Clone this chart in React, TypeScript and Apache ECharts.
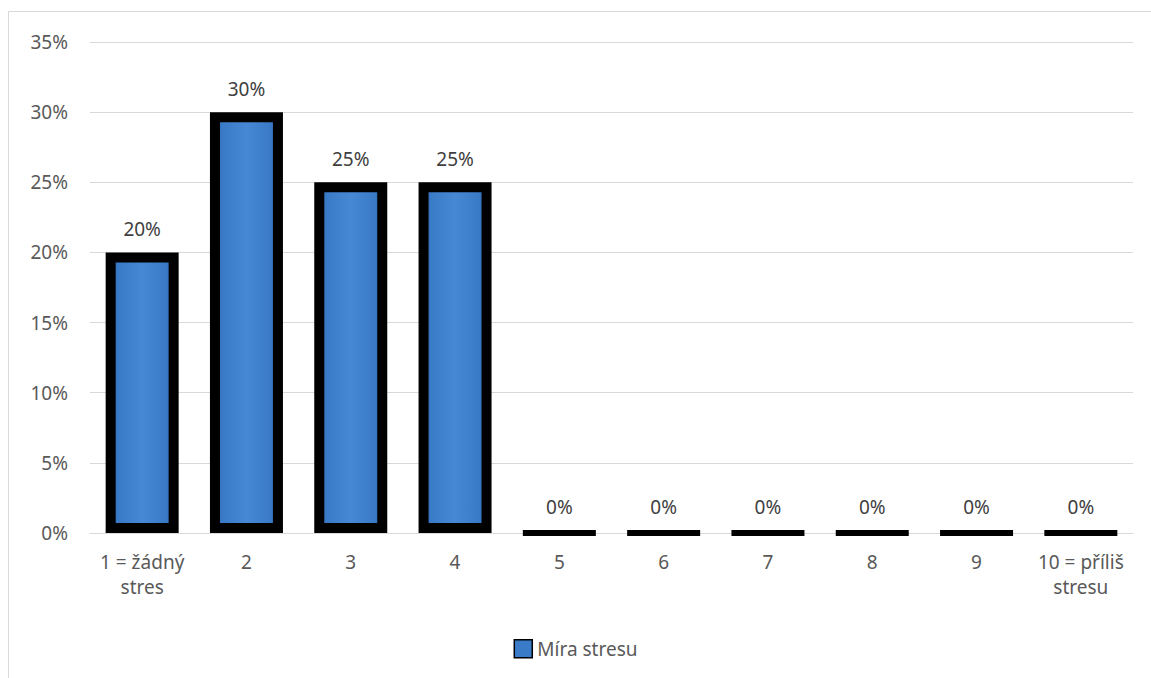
import React, { useEffect, useRef } from "react";
import * as echarts from "echarts";

const categories = ["1 = žádný\nstres", "2", "3", "4", "5", "6", "7", "8", "9", "10 = příliš\nstresu"];
const values = [0.2, 0.3, 0.25, 0.25, 0, 0, 0, 0, 0, 0];
const seriesName = "Míra stresu";

export default function App() {
  const ref = useRef<HTMLDivElement>(null);
  useEffect(() => {
    if (!ref.current) return;
    const chart = echarts.init(ref.current, null, { renderer: "svg" });
    const font = "'Noto Sans', sans-serif";
    const barFill = new echarts.graphic.LinearGradient(0, 0, 1, 0, [
      { offset: 0, color: "#2a62a8" },
      { offset: 0.12, color: "#3a7bc8" },
      { offset: 0.5, color: "#4688d4" },
      { offset: 0.88, color: "#3a7bc8" },
      { offset: 1, color: "#2a62a8" },
    ]);
    const fs = 19;
    chart.setOption({
      animation: false,
      backgroundColor: "#fff",
      textStyle: { fontFamily: font },
      graphic: [
        {
          type: "rect",
          shape: { x: 8.5, y: 11.5, width: 1200, height: 700 },
          style: { fill: "none", stroke: "#d9d9d9", lineWidth: 1 },
          silent: true,
        },
      ],
      grid: { left: 90, right: 18, top: 42, bottom: 145, containLabel: false },
      xAxis: {
        type: "category",
        data: categories,
        axisLine: { show: true, lineStyle: { color: "#d9d9d9", width: 1 } },
        axisTick: { show: false },
        axisLabel: {
          color: "#595959",
          fontSize: fs,
          fontFamily: font,
          margin: 16,
          lineHeight: 25,
          interval: 0,
        },
      },
      yAxis: {
        type: "value",
        min: 0,
        max: 0.35,
        interval: 0.05,
        axisLine: { show: false },
        axisTick: { show: false },
        splitLine: { lineStyle: { color: "#d9d9d9", width: 1 } },
        axisLabel: {
          color: "#595959",
          fontSize: fs,
          fontFamily: font,
          margin: 22,
          formatter: (v: number) => Math.round(v * 100) + "%",
        },
      },
      legend: {
        top: 634,
        left: "center",
        itemWidth: 18,
        itemHeight: 18,
        itemGap: 4,
        textStyle: { color: "#595959", fontSize: fs, fontFamily: font },
        data: [
          {
            name: seriesName,
            icon: "rect",
            itemStyle: { color: "#3a7bc8", borderColor: "#000", borderWidth: 1.5 },
          },
        ],
      },
      series: [
        {
          name: seriesName,
          type: "bar",
          data: values.map((v) => ({
            value: v,
            itemStyle: v === 0 ? { borderWidth: 6 } : undefined,
          })),
          barWidth: 73,
          itemStyle: {
            color: barFill,
            borderColor: "#000",
            borderWidth: 10,
          },
          label: {
            show: true,
            position: "top",
            distance: 14,
            color: "#404040",
            fontSize: fs,
            fontFamily: font,
            formatter: (p: any) => Math.round(p.value * 100) + "%",
          },
        },
      ],
    });
    return () => chart.dispose();
  }, []);
  return (
    <div
      ref={ref}
      style={{ position: "absolute", left: 0, top: 0, width: 1151, height: 678 }}
    />
  );
}
